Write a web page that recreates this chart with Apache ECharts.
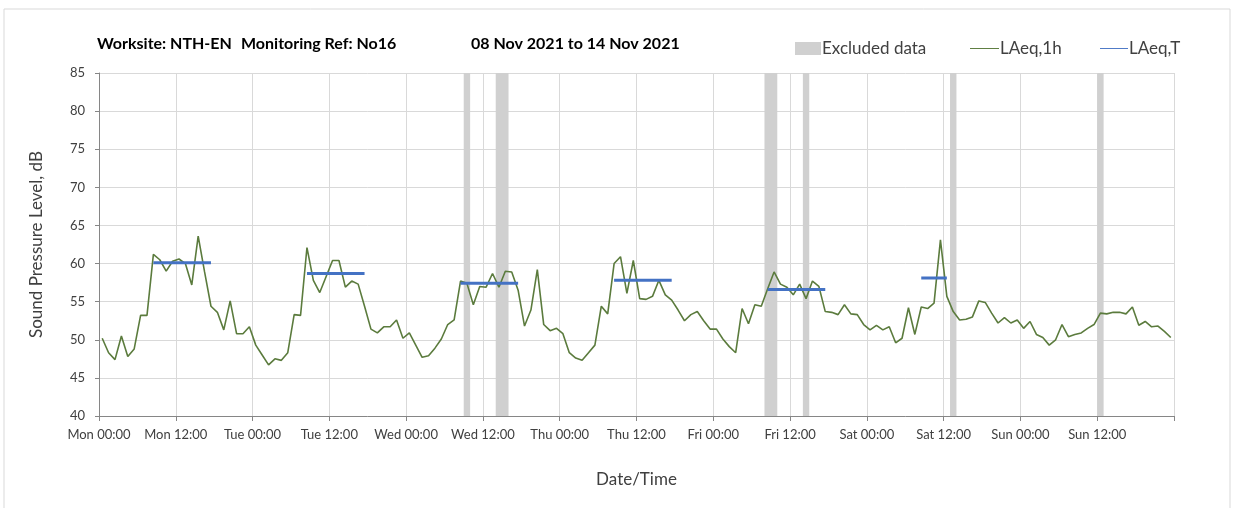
<!DOCTYPE html>
<html>
<head>
<meta charset="utf-8">
<script src="https://cdn.jsdelivr.net/npm/echarts@6/dist/echarts.min.js"></script>
<style>
html,body{margin:0;padding:0;background:#fff;}
#c{width:1234px;height:508px;}
</style>
</head>
<body>
<div id="c"></div>
<script>
// ---- data ----
const tickLabels = ['Mon 00:00','Mon 12:00','Tue 00:00','Tue 12:00','Wed 00:00','Wed 12:00','Thu 00:00','Thu 12:00','Fri 00:00','Fri 12:00','Sat 00:00','Sat 12:00','Sun 00:00','Sun 12:00',''];
// hourly LAeq,1h values, starting Mon 08 Nov 2021 00:00
const laeq1h = [
  50.2,48.3,47.4,50.5,47.8,48.8,53.2,53.2,61.2,60.5,59.0,60.3,60.6,60.0,57.2,63.6,58.9,54.4,53.6,51.3,55.1,50.8,50.8,51.7,
  49.3,48.0,46.7,47.5,47.3,48.3,53.3,53.2,62.1,57.8,56.2,58.3,60.4,60.4,56.9,57.7,57.3,54.4,51.4,50.9,51.7,51.7,52.6,50.2,
  50.9,49.3,47.7,47.9,48.9,50.1,52.0,52.6,57.7,57.4,54.6,57.0,56.9,58.7,56.9,59.0,58.9,56.5,51.8,53.9,59.2,52.0,51.2,51.5,
  50.8,48.3,47.6,47.3,48.3,49.3,54.4,53.4,60.0,60.9,56.1,60.4,55.4,55.3,55.7,57.8,55.9,55.2,53.9,52.5,53.3,53.7,52.5,51.4,
  51.4,50.1,49.1,48.3,54.1,52.1,54.6,54.4,56.7,58.9,57.3,56.9,55.9,57.3,55.4,57.7,57.0,53.7,53.6,53.3,54.6,53.4,53.3,52.0,
  51.3,51.9,51.3,51.7,49.6,50.2,54.2,50.7,54.3,54.1,54.8,63.1,55.7,53.7,52.6,52.7,53.0,55.1,54.9,53.5,52.2,52.9,52.2,52.6,
  51.5,52.4,50.7,50.3,49.3,50.0,52.0,50.4,50.7,50.9,51.5,52.0,53.5,53.4,53.6,53.6,53.4,54.3,51.9,52.4,51.7,51.8,51.1,50.3
];
// LAeq,T daytime periods (hour index of first and last hourly value) and levels
const periodStart = [8, 32, 56, 80, 104, 128];
const periodEnd   = [17, 41, 65, 89, 113, 132];
const periodLevel = [60.1, 58.7, 57.4, 57.8, 56.6, 58.1];
// excluded data periods (start hour, end hour)
const excludedStart = [57, 62, 104, 110, 133, 156];
const excludedEnd   = [58, 64, 106, 111, 134, 157];

// ---- build ----
const FONT = 'Lato, "Open Sans", sans-serif';
const lineData = laeq1h.map((v, i) => [i + 0.5, v]);
const series = [
  {
    name: 'Excluded data', type: 'line', data: [], z: 1,
    itemStyle: {color: '#d0d0d0'}, lineStyle: {color: '#d0d0d0'},
    markArea: {
      silent: true,
      itemStyle: {color: '#d0d0d0'},
      data: excludedStart.map((s, i) => [{xAxis: s}, {xAxis: excludedEnd[i]}])
    }
  },
  {
    name: 'LAeq,1h', type: 'line', data: lineData, showSymbol: false, z: 3,
    lineStyle: {color: '#5b7b3d', width: 1.6}, itemStyle: {color: '#5b7b3d'}
  }
];
periodStart.forEach((s, i) => {
  series.push({
    name: 'LAeq,T', type: 'line', showSymbol: false, z: 4,
    data: [[s + 0.5, periodLevel[i]], [periodEnd[i] + 0.5, periodLevel[i]]],
    lineStyle: {color: '#4472c4', width: 3}, itemStyle: {color: '#4472c4'}
  });
});

const chart = echarts.init(document.getElementById('c'), null, {renderer: 'canvas'});
chart.setOption({
  animation: false,
  backgroundColor: '#fff',
  textStyle: {fontFamily: FONT},
  grid: {left: 99, right: 60, top: 73, bottom: 92, containLabel: false},
  graphic: [
    {type: 'rect', shape: {x: 4, y: 9, width: 1226, height: 530}, style: {fill: 'none', stroke: '#d9d9d9', lineWidth: 1}, z: -10},
    {type: 'text', left: 97, top: 36, style: {text: 'Worksite: NTH-EN', font: 'bold 16px ' + FONT, fill: '#000'}},
    {type: 'text', left: 241, top: 36, style: {text: 'Monitoring Ref: No16', font: 'bold 16px ' + FONT, fill: '#000'}},
    {type: 'text', left: 471, top: 36, style: {text: '08 Nov 2021 to 14 Nov 2021', font: 'bold 16px ' + FONT, fill: '#000'}}
  ],
  legend: [
    {data: [{name: 'Excluded data', icon: 'rect'}], left: 790, top: 35, itemWidth: 26, itemHeight: 13,
     textStyle: {fontSize: 17, color: '#404040', fontFamily: FONT, padding: [0, 0, 0, -4]}, selectedMode: false},
    {data: [{name: 'LAeq,1h', icon: 'path://M0 0H30V1H0Z'}], left: 965, top: 35, itemWidth: 29, itemHeight: 1.5,
     textStyle: {fontSize: 17, color: '#404040', fontFamily: FONT, padding: [0, 0, 0, -4]}, selectedMode: false},
    {data: [{name: 'LAeq,T', icon: 'path://M0 0H30V1H0Z'}], left: 1095, top: 35, itemWidth: 28, itemHeight: 3,
     textStyle: {fontSize: 17, color: '#404040', fontFamily: FONT, padding: [0, 0, 0, -4]}, selectedMode: false}
  ],
  xAxis: {
    type: 'value', min: 0, max: 168, interval: 12,
    name: 'Date/Time', nameLocation: 'middle', nameGap: 55,
    nameTextStyle: {fontSize: 17, color: '#404040', fontFamily: FONT},
    axisLine: {show: true, lineStyle: {color: '#868686', width: 1}},
    axisTick: {show: true, length: 5, lineStyle: {color: '#868686'}},
    splitLine: {show: true, lineStyle: {color: '#d9d9d9', width: 1}},
    axisLabel: {fontSize: 13, color: '#404040', margin: 12, fontFamily: FONT,
      formatter: v => tickLabels[Math.round(v / 12)] || ''}
  },
  yAxis: {
    type: 'value', min: 40, max: 85, interval: 5,
    name: 'Sound Pressure Level, dB', nameLocation: 'middle', nameGap: 54, nameRotate: 90,
    nameTextStyle: {fontSize: 17, color: '#404040', fontFamily: FONT},
    axisLine: {show: true, lineStyle: {color: '#868686', width: 1}},
    axisTick: {show: true, length: 4, lineStyle: {color: '#868686'}},
    splitLine: {show: true, lineStyle: {color: '#d9d9d9', width: 1}},
    axisLabel: {fontSize: 13, color: '#404040', margin: 14, fontFamily: FONT}
  },
  series: series
});
</script>
</body>
</html>
